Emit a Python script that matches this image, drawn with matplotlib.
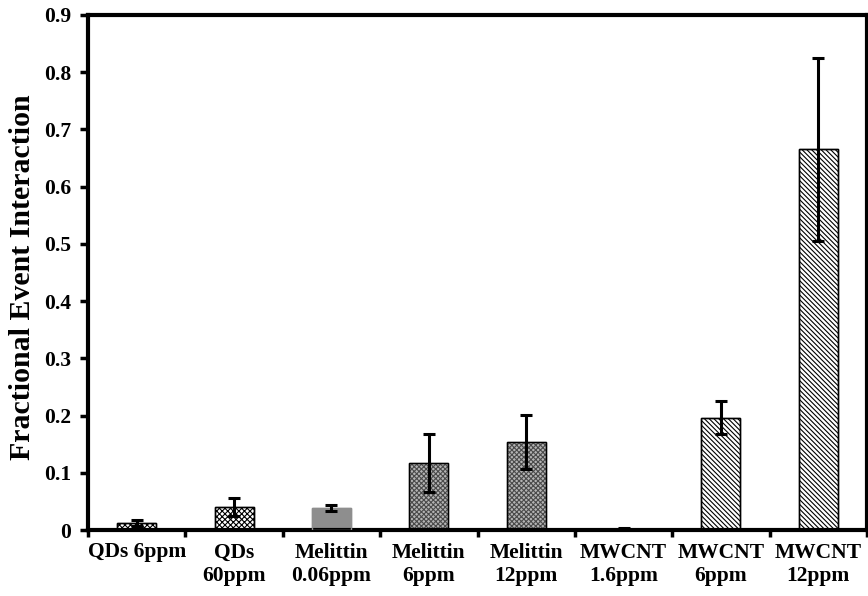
import numpy as np
import matplotlib.pyplot as plt

plt.rcParams['font.family'] = 'Liberation Serif'
plt.rcParams['font.weight'] = 'bold'
plt.rcParams['hatch.linewidth'] = 0.8

# Data
labels = ['QDs 6ppm', 'QDs\n60ppm', 'Melittin\n0.06ppm', 'Melittin\n6ppm',
          'Melittin\n12ppm', 'MWCNT\n1.6ppm', 'MWCNT\n6ppm', 'MWCNT\n12ppm']
values = [0.012, 0.040, 0.038, 0.117, 0.154, 0.002, 0.196, 0.665]
errors = [0.005, 0.016, 0.005, 0.050, 0.047, 0.001, 0.029, 0.160]

# Fill styles per group
faces = ['white', 'white', '#8e8e8e', '#b4b4b4', '#b4b4b4', 'white', 'white', 'white']
hatches = ['xxxxxx', 'xxxxxx', None, 'xxxxxxx', 'xxxxxxx', '\\' * 7, '\\' * 7, '\\' * 7]
edges = ['k', 'k', '#8e8e8e', 'k', 'k', 'k', 'k', 'k']
hatch_cols = ['k', 'k', '#8e8e8e', '#4a4a4a', '#4a4a4a', 'k', 'k', 'k']

fig = plt.figure(figsize=(8.68, 5.96), dpi=100)
ax = fig.add_axes([88/868, 1 - 530/596, (867-88)/868, (530-15)/596])

x = np.arange(len(values))
for i in range(len(values)):
    ax.bar(x[i], values[i], width=0.4, color=faces[i], edgecolor=hatch_cols[i],
           hatch=hatches[i], linewidth=1.0, zorder=2)
    # outline on top of the hatch colour
    ax.bar(x[i], values[i], width=0.4, fill=False, edgecolor=edges[i],
           linewidth=1.0, zorder=3)
ax.errorbar(x, values, yerr=errors, fmt='none', ecolor='k', elinewidth=2.2,
            capsize=4, capthick=2.2, zorder=4)

ax.set_xlim(-0.5, len(values) - 0.5)
ax.set_ylim(0, 0.9)
ax.set_yticks(np.arange(0, 0.91, 0.1))
ax.set_yticklabels(['0'] + ['%.1f' % v for v in np.arange(0.1, 0.91, 0.1)],
                   fontsize=15.5, fontweight='bold')
ax.set_xticks(np.arange(-0.5, len(values), 1.0))
ax.set_xticklabels([])
ax.set_xticks(x, minor=True)
ax.set_xticklabels(labels, minor=True, fontsize=15.5, fontweight='bold',
                   linespacing=1.2, va='top')
ax.tick_params(axis='x', which='minor', length=0, pad=9)
ax.tick_params(axis='x', which='major', length=5, width=2.5, direction='out')
ax.tick_params(axis='y', length=6, width=2.5, direction='out', pad=6)

for s in ax.spines.values():
    s.set_linewidth(3)

ax.set_ylabel('Fractional Event Interaction', fontsize=21.5, fontweight='bold')
ax.yaxis.set_label_coords(-0.067, 0.49)

fig.savefig('out.png', dpi=100)
